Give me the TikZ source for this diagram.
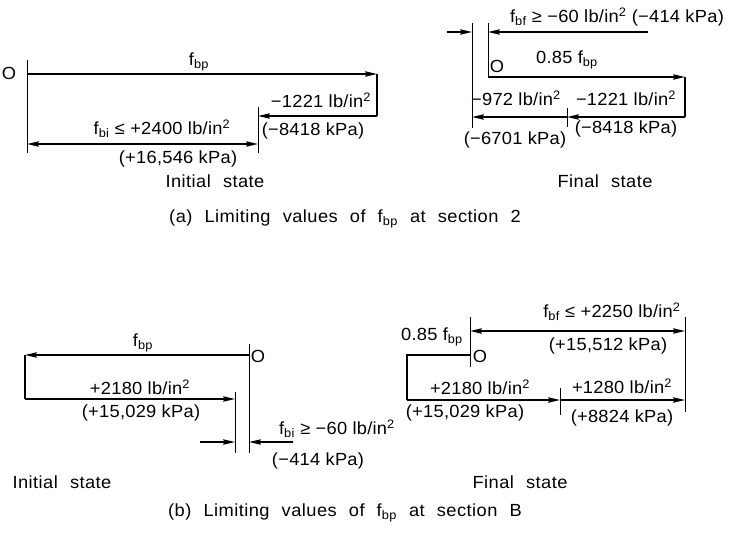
\documentclass[tikz,border=0pt]{standalone}
\usepackage{fontspec}
\setmainfont{Liberation Sans}[FakeStretch=1.04, LetterSpace=1.5]
\newfontfamily\capfont{Liberation Sans}[FakeStretch=1.04, LetterSpace=2.5, WordSpace=2.2]
\usetikzlibrary{arrows.meta}

\begin{document}
\begin{tikzpicture}[
    x=0.03cm, y=-0.03cm,
    every node/.style={
        inner sep=1pt,
        font=\fontsize{15}{17}\selectfont
    },
    caption/.style={font=\fontsize{15}{17}\capfont},
    arrow/.style={-{Stealth[length=10pt,width=4.5pt,inset=1pt]}, line width=1.3pt},
    darrow/.style={{Stealth[length=10pt,width=4.5pt,inset=1pt]}-{Stealth[length=10pt,width=4.5pt,inset=1pt]}, line width=1.3pt},
    leg/.style={line width=1.3pt},
    tick/.style={line width=0.8pt}
]
\useasboundingbox (0,0) rectangle (734,533);

% (a) Initial state
\coordinate (aitop) at (27,60);
\coordinate (aibot) at (27,153);
\coordinate (ai0) at (27,74);
\coordinate (ai1) at (377,74);
\coordinate (ai2) at (377,116);
\coordinate (ai3) at (258,116);
\coordinate (ai3top) at (258,107);
\coordinate (ai3bot) at (258,153);
\coordinate (ai4) at (27,144);
\coordinate (ai5) at (258,144);

\draw[tick] (aitop) -- (aibot);
\draw[arrow] (ai0) -- (ai1);
\draw[leg] (ai1) -- (ai2);
\draw[arrow] (ai2) -- (ai3);
\draw[tick] (ai3top) -- (ai3bot);
\draw[darrow] (ai4) -- (ai5);

\node (aizero) at (9,73) {O};
\node (aifbp) at (199,62) {f\textsubscript{bp}};
\node (aistep) at (321,100) {−1221 lb/in\textsuperscript{2}};
\node (aistepk) at (313,131) {(−8418 kPa)};
\node (aifbi) at (162,129) {f\textsubscript{bi} ≤ +2400 lb/in\textsuperscript{2}};
\node (aifbik) at (178,159) {(+16,546 kPa)};
\node[caption] (aistate) at (215,181) {Initial state};

% (a) Final state
\coordinate (afltop) at (472,23);
\coordinate (aflbot) at (472,128);
\coordinate (afrtop) at (488,23);
\coordinate (afin) at (447,32);
\coordinate (afl) at (472,32);
\coordinate (afout) at (648,32);
\coordinate (afr) at (488,32);
\coordinate (af0) at (488,77);
\coordinate (af1) at (685,77);
\coordinate (af2) at (685,117);
\coordinate (af3) at (567,117);
\coordinate (af3top) at (567,108);
\coordinate (af3bot) at (567,127);
\coordinate (af4) at (472,117);

\draw[tick] (afltop) -- (aflbot);
\draw[tick] (afrtop) -- (af0);
\draw[arrow] (afin) -- (afl);
\draw[arrow] (afout) -- (afr);
\draw[arrow] (af0) -- (af1);
\draw[leg] (af1) -- (af2);
\draw[arrow] (af2) -- (af3);
\draw[tick] (af3top) -- (af3bot);
\draw[arrow] (af3) -- (af4);

\node (affbf) at (617,17) {f\textsubscript{bf} ≥ −60 lb/in\textsuperscript{2} (−414 kPa)};
\node (afzero) at (497,66) {O};
\node (affbp) at (567,60) {0.85 f\textsubscript{bp}};
\node (afstep) at (626,98) {−1221 lb/in\textsuperscript{2}};
\node (afstepk) at (626,129) {(−8418 kPa)};
\node (afrest) at (516,98) {−972 lb/in\textsuperscript{2}};
\node (afrestk) at (515,140) {(−6701 kPa)};
\node[caption] (afstate) at (605,181) {Final state};

\node[caption] (acap) at (345,219) {(a) Limiting values of f\textsubscript{bp} at section 2};

% (b) Initial state
\coordinate (bitop) at (249,344);
\coordinate (bibot) at (249,453);
\coordinate (bi0) at (249,355);
\coordinate (bi1) at (25,355);
\coordinate (bi2) at (25,399);
\coordinate (bi3) at (235,399);
\coordinate (bi3top) at (235,392);
\coordinate (bi3bot) at (235,453);
\coordinate (biin) at (200,442);
\coordinate (bil) at (235,442);
\coordinate (biout) at (293,442);
\coordinate (bir) at (249,442);

\draw[tick] (bitop) -- (bibot);
\draw[arrow] (bi0) -- (bi1);
\draw[leg] (bi1) -- (bi2);
\draw[arrow] (bi2) -- (bi3);
\draw[tick] (bi3top) -- (bi3bot);
\draw[arrow] (biin) -- (bil);
\draw[arrow] (biout) -- (bir);

\node (bizero) at (258,356) {O};
\node (bifbp) at (143,343) {f\textsubscript{bp}};
\node (bistep) at (140,387) {+2180 lb/in\textsuperscript{2}};
\node (bistepk) at (141,413) {(+15,029 kPa)};
\node (bifbi) at (337,429) {f\textsubscript{bi} ≥ −60 lb/in\textsuperscript{2}};
\node (bifbik) at (318,461) {(−414 kPa)};
\node[caption] (bistate) at (62,482) {Initial state};

% (b) Final state
\coordinate (bftop) at (470,317);
\coordinate (bfbot) at (470,367);
\coordinate (bfl) at (470,331);
\coordinate (bfr) at (685,331);
\coordinate (bfrtop) at (685,317);
\coordinate (bfrbot) at (685,412);
\coordinate (bf0) at (470,355);
\coordinate (bf1) at (407,355);
\coordinate (bf2) at (407,400);
\coordinate (bf3) at (560,400);
\coordinate (bf3top) at (560,388);
\coordinate (bf3bot) at (560,415);
\coordinate (bf4) at (685,400);

\draw[tick] (bftop) -- (bfbot);
\draw[tick] (bfrtop) -- (bfrbot);
\draw[darrow] (bfl) -- (bfr);
\draw[leg] (bf0) -- (bf1) -- (bf2);
\draw[arrow] (bf2) -- (bf3);
\draw[tick] (bf3top) -- (bf3bot);
\draw[arrow] (bf3) -- (bf4);

\node (bffbf) at (612,312) {f\textsubscript{bf} ≤ +2250 lb/in\textsuperscript{2}};
\node (bffbfk) at (608,346) {(+15,512 kPa)};
\node (bfzero) at (480,356) {O};
\node (bffbp) at (432,337) {0.85 f\textsubscript{bp}};
\node (bfstep) at (480,387) {+2180 lb/in\textsuperscript{2}};
\node (bfstepk) at (465,413) {(+15,029 kPa)};
\node (bfadd) at (622,386) {+1280 lb/in\textsuperscript{2}};
\node (bfaddk) at (622,418) {(+8824 kPa)};
\node[caption] (bfstate) at (520,482) {Final state};

\node[caption] (bcap) at (345,513) {(b) Limiting values of f\textsubscript{bp} at section B};

\end{tikzpicture}
\end{document}
